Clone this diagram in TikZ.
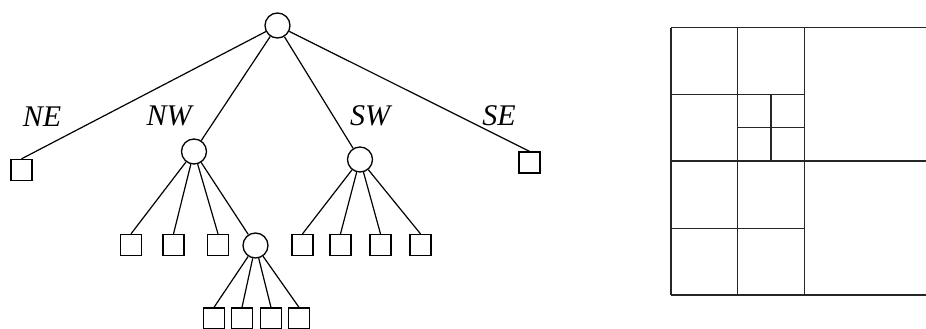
\documentclass[tikz,border=0pt]{standalone}
\usepackage{fontspec}
\setmainfont{Liberation Serif}
\usepackage{tikz}

\tikzset{
  inner/.style={circle,draw,line width=1.3pt,minimum size=25pt,inner sep=0pt},
  leaf/.style={rectangle,draw,line width=1.3pt,minimum size=21pt,inner sep=0pt},
  quad/.style={font=\fontsize{30}{33}\selectfont\itshape,anchor=base,inner sep=0pt}
}

\begin{document}
\begin{tikzpicture}[x=1pt,y=-1pt,line width=1.2pt]
                    \useasboundingbox (0,0) rectangle (926,329);
                    % tree
                    \node[inner] (root) at (277.5,25.5) {};
                    \node[leaf] (ne) at (21.5,170) {};
                    \node[inner] (nw) at (194,151.5) {};
                    \node[inner] (sw) at (360,159.5) {};
                    \node[leaf] (se) at (529.5,162.5) {};
                    \node[quad] (lne) at (42,126) {NE};
                    \node[quad] (lnw) at (169,125) {NW};
                    \node[quad] (lsw) at (370,125) {SW};
                    \node[quad] (lse) at (499,125) {SE};
                    \node[leaf] (nw1) at (131,245) {};
                    \node[leaf] (nw2) at (173.5,245) {};
                    \node[leaf] (nw3) at (218,245) {};
                    \node[inner] (nw4) at (255.5,245.5) {};
                    \node[leaf] (sw1) at (302.5,245) {};
                    \node[leaf] (sw2) at (340.5,245) {};
                    \node[leaf] (sw3) at (380.5,245) {};
                    \node[leaf] (sw4) at (420.5,245) {};
                    \node[leaf] (nwa) at (214,318.5) {};
                    \node[leaf] (nwb) at (242,318.5) {};
                    \node[leaf] (nwc) at (271,318.5) {};
                    \node[leaf] (nwd) at (299,318.5) {};
                    \draw (root) -- (ne.north);
                    \draw (root) -- (nw);
                    \draw (root) -- (sw);
                    \draw (root) -- (se.north);
                    \foreach \c in {nw1,nw2,nw3}
                      \draw (nw) -- (\c.north);
                    \draw (nw) -- (nw4);
                    \foreach \c in {sw1,sw2,sw3,sw4}
                      \draw (sw) -- (\c.north);
                    \foreach \c in {nwa,nwb,nwc,nwd}
                      \draw (nw4) -- (\c.north);
                    % quadrants
                    \begin{scope}[black!85,line width=1.3pt]
                    \foreach \x in {671,737.7,804.3}
                      \draw (\x,27.7) -- (\x,295);
                    \foreach \y in {27.7,161,295}
                      \draw (671,\y) -- (930,\y);
                    \foreach \y in {94.3,228.3}
                      \draw (671,\y) -- (804.3,\y);
                    \draw (771,94.3) -- (771,161);
                    \draw (737.7,127.7) -- (804.3,127.7);
                    \end{scope}
                \end{tikzpicture}
\end{document}
